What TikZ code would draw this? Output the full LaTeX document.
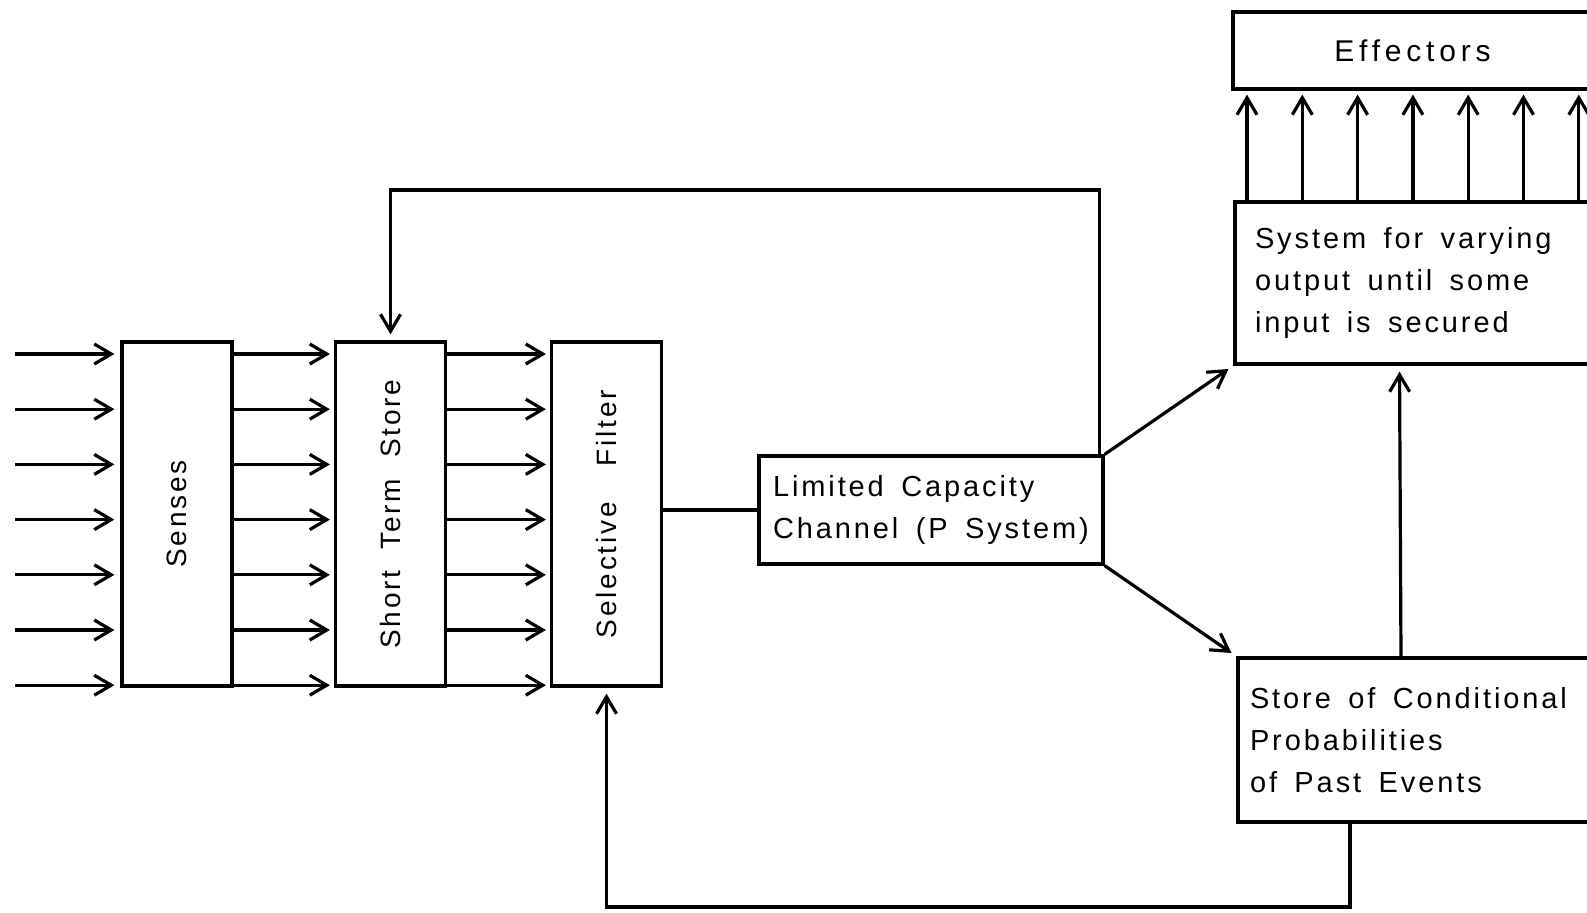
\documentclass[tikz,border=0pt]{standalone}
\usepackage{fontspec}
\setmainfont{Liberation Sans}[LetterSpace=10,WordSpace=2]
\usetikzlibrary{arrows.meta}
\tikzset{
  stage box/.style={draw,line width=1.6pt,minimum width=55pt,
    minimum height=172pt,inner sep=0pt},
  stage label/.style={rotate=90,font=\fontsize{14}{21}\selectfont},
  text box/.style={draw,line width=1.6pt,align=left,inner ysep=0pt,
    font=\fontsize{14.5}{21}\selectfont,
    execute at begin node={\spaceskip=0.6em\relax}},
  flow arrow/.style={-{Straight Barb[length=8.5pt,width=10pt]},line width=1.6pt},
  flow line/.style={line width=1.6pt},
}

\begin{document}
\begin{tikzpicture}[x=0.5pt,y=-0.5pt]
  \useasboundingbox (0,0) rectangle (1587,912);
  \clip (0,0) rectangle (1587,912);

  % Parallel stages
  \node[stage box] (senses) at (177,514) {};
  \node[stage label] (sensesText) at (senses) {Senses};
  \node[stage box] (sts) at (390.5,514) {};
  \node[stage label] (stsText) at (sts) {Short Term Store};
  \node[stage box] (filter) at (606.5,514) {};
  \node[stage label] (filterText) at (filter) {Selective\hspace{18pt}Filter};

  \foreach \i in {0,...,6} {
    \coordinate (in\i) at (15,354+55.2*\i);
    \draw[flow arrow,shorten >=3pt] (in\i) -- (senses.west |- in\i);
    \draw[flow arrow,shorten >=2pt] (senses.east |- in\i) -- (sts.west |- in\i);
    \draw[flow arrow,shorten >=2pt] (sts.east |- in\i) -- (filter.west |- in\i);
  }

  % Channel and the stores
  \node[text box,minimum width=172pt,minimum height=54pt,text width=158pt,
    inner xsep=7pt] (lcc) at (931,510)
    {Limited Capacity\\Channel (P System)};
  \node[text box,minimum width=182.5pt,minimum height=81pt,text width=162.5pt,
    inner xsep=10pt] (system) at (1417.5,283)
    {System for varying\\output until some\\input is secured};
  \node[text box,minimum width=181pt,minimum height=82pt,text width=169pt,
    inner xsep=6pt] (store) at (1419,740)
    {Store of Conditional\\Probabilities\\of Past Events};
  \node[text box,minimum width=179.5pt,minimum height=38.5pt,
    font=\fontsize{15}{21}\selectfont\addfontfeature{LetterSpace=16}]
    (effectors) at (1412.5,50.5) {Effectors};

  \draw[flow line] (filter.east |- lcc.west) -- (lcc.west);
  \draw[flow arrow,shorten >=3pt] (lcc.north east) -- (system.south west);
  \draw[flow arrow,shorten >=3pt] (lcc.south east) -- (store.north west);
  \draw[flow arrow,shorten >=3pt] ([xshift=-9pt]store.north)
    -- ([xshift=-9pt]system.south);

  \foreach \i in {0,...,6} {
    \coordinate (up\i) at (1247+55.3*\i,0);
    \draw[flow arrow,shorten >=2pt] (system.north -| up\i)
      -- (effectors.south -| up\i);
  }

  % Feedback loops
  \coordinate (topLoop) at (0,190);
  \draw[flow arrow,shorten >=3pt] ([xshift=-2.5pt]lcc.north east)
    -- ([xshift=-2.5pt]lcc.north east |- topLoop)
    -- (sts.north |- topLoop) -- (sts.north);
  \coordinate (bottomLoop) at (0,907);
  \draw[flow arrow,shorten >=3pt] ([xshift=-34.5pt]store.south)
    -- ([xshift=-34.5pt]store.south |- bottomLoop)
    -- (filter.south |- bottomLoop) -- (filter.south);
\end{tikzpicture}
\end{document}
